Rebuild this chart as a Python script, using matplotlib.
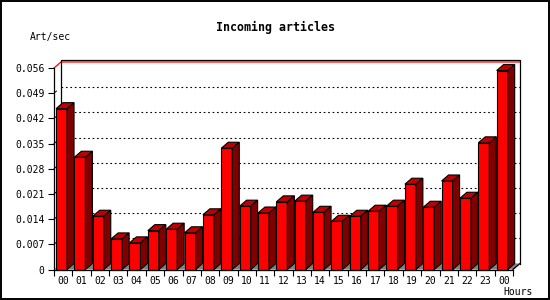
import matplotlib
matplotlib.use('Agg')
import matplotlib.pyplot as plt
from matplotlib.patches import Polygon, Rectangle

# data
hours = ['00', '01', '02', '03', '04', '05', '06', '07', '08', '09', '10', '11',
         '12', '13', '14', '15', '16', '17', '18', '19', '20', '21', '22', '23', '00']
rates = [0.0447, 0.0312, 0.0148, 0.0085, 0.0074, 0.0108, 0.0112, 0.0102, 0.0152,
         0.0337, 0.0176, 0.0157, 0.0188, 0.0190, 0.0159, 0.0134, 0.0148, 0.0162,
         0.0176, 0.0237, 0.0173, 0.0246, 0.0198, 0.0352, 0.0553]
yticks = [0, 0.007, 0.014, 0.021, 0.028, 0.035, 0.042, 0.049, 0.056]
title = 'Incoming articles'
ylabel = 'Art/sec'
xlabel = 'Hours'

W, H = 550, 300
fig = plt.figure(figsize=(W / 100, H / 100), dpi=100)
mono = 'DejaVu Sans Mono'

# front plane of the axes (pixels, from top-left)
left, right, bottom, top = 54, 513, 269.5, 68
ax = fig.add_axes([left / W, (H - bottom) / H, (right - left) / W, (bottom - top) / H])
n = len(rates)
ymax = yticks[-1]
ax.set_xlim(0, n)
ax.set_ylim(0, ymax)

# depth offset in data units (7px right, 6px up)
DX = 7 / ((right - left) / n)
DY = 6 * ymax / (bottom - top)

# floor
ax.add_patch(Polygon([(0, 0), (n, 0), (n + DX, DY), (DX, DY)], closed=True,
                     facecolor='#808080', edgecolor='none', zorder=1, clip_on=False))
# back wall grid
for v in yticks[1:-1]:
    ax.plot([DX, n + DX], [v + DY, v + DY], color='black', lw=0.8,
            ls=(0, (1.5, 2.5)), zorder=1, clip_on=False)
    ax.plot([0, DX * 0.35], [v, v + DY * 0.35], color='black', lw=0.7, zorder=1, clip_on=False)
ax.plot([0, DX, n + DX], [ymax, ymax + DY, ymax + DY], color='red', lw=0.9, zorder=1, clip_on=False)
# back wall frame
top_frame = ymax + DY * 1.3
ax.plot([DX, DX, n + DX, n + DX], [DY, top_frame, top_frame, DY], color='black',
        lw=0.9, zorder=1, clip_on=False)
ax.plot([n, n + DX], [0, DY], color='black', lw=0.9, zorder=1, clip_on=False)

# bars
bw = 0.6
x0s = [i + 0.11 for i in range(n)]
ax.bar(x0s, rates, width=bw, align='edge', color='#ff0000', edgecolor='black',
       lw=0.8, zorder=3, clip_on=False)
for x0, v in zip(x0s, rates):
    x1 = x0 + bw
    ax.add_patch(Polygon([(x0, v), (x1, v), (x1 + DX, v + DY), (x0 + DX, v + DY)],
                         closed=True, facecolor='#c00000', edgecolor='black', lw=0.8,
                         zorder=3, clip_on=False))
    ax.add_patch(Polygon([(x1, 0), (x1, v), (x1 + DX, v + DY), (x1 + DX, DY)],
                         closed=True, facecolor='#800000', edgecolor='black', lw=0.8,
                         zorder=3, clip_on=False))

# axes
ax.patch.set_visible(False)
for s in ['top', 'right']:
    ax.spines[s].set_visible(False)
ax.spines['left'].set_linewidth(0.9)
ax.spines['bottom'].set_linewidth(0.9)
ax.spines['left'].set_zorder(4)
ax.spines['bottom'].set_zorder(4)
ax.set_yticks(yticks)
ax.set_yticklabels(['0'] + ['%.3f' % v for v in yticks[1:]], family=mono, fontsize=7)
ax.tick_params(axis='y', length=4, width=0.8, pad=3)
ax.set_xticks(range(n + 1))
ax.set_xticklabels([])
ax.set_xticks([i + 0.5 for i in range(n)], minor=True)
ax.set_xticklabels(hours, minor=True, family=mono, fontsize=7)
ax.tick_params(axis='x', which='major', length=4, width=0.8)
ax.tick_params(axis='x', which='minor', length=0, pad=5)

fig.text(275 / W, 1 - 27 / H, title, family=mono, fontsize=8.4, weight='bold',
         ha='center', va='center')
fig.text(30 / W, 1 - 37 / H, ylabel, family=mono, fontsize=7, ha='left', va='center')
fig.text(533 / W, 1 - 292 / H, xlabel, family=mono, fontsize=7, ha='right', va='center')

fig.patches.append(Rectangle((0.6 / W, 0.6 / H), 1 - 2 / W, 1 - 2 / H, transform=fig.transFigure,
                             fill=False, edgecolor='black', lw=1.4))

fig.savefig('out.png', dpi=100)
